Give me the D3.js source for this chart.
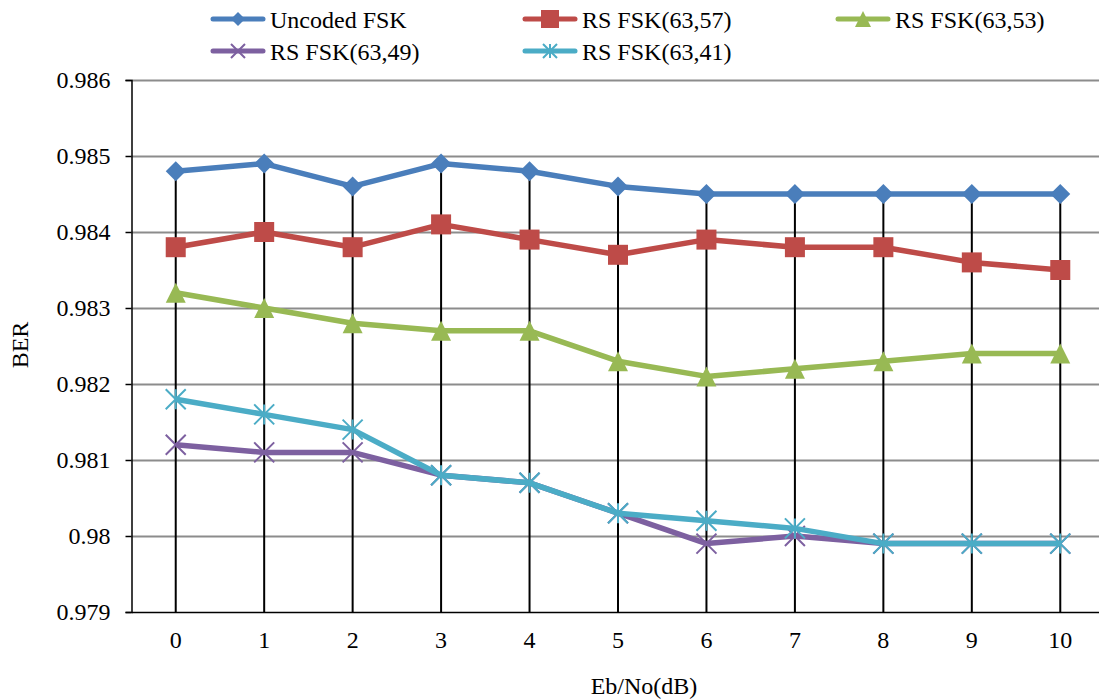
<!DOCTYPE html>
<html><head><meta charset="utf-8">
<script src="https://cdn.jsdelivr.net/npm/d3@7"></script>
<style>body{margin:0;background:#fff}svg{display:block}text{font-family:"Liberation Serif","Times New Roman",serif;fill:#000}</style>
</head><body>
<svg id="c" width="1099" height="699"></svg>
<script>
const categories = [0,1,2,3,4,5,6,7,8,9,10];
const seriesNames = ["Uncoded FSK","RS FSK(63,57)","RS FSK(63,53)","RS FSK(63,49)","RS FSK(63,41)"];
const uncoded = [0.9848,0.9849,0.9846,0.9849,0.9848,0.9846,0.9845,0.9845,0.9845,0.9845,0.9845];
const rs57 = [0.9838,0.9840,0.9838,0.9841,0.9839,0.9837,0.9839,0.9838,0.9838,0.9836,0.9835];
const rs53 = [0.9832,0.9830,0.9828,0.9827,0.9827,0.9823,0.9821,0.9822,0.9823,0.9824,0.9824];
const rs49 = [0.9812,0.9811,0.9811,0.9808,0.9807,0.9803,0.9799,0.9800,0.9799,0.9799,0.9799];
const rs41 = [0.9818,0.9816,0.9814,0.9808,0.9807,0.9803,0.9802,0.9801,0.9799,0.9799,0.9799];
const yTicks = [0.979,0.980,0.981,0.982,0.983,0.984,0.985,0.986];
const colors = ["#4A7EBB","#BE4B48","#98B954","#7D60A0","#4BACC6"];
const markers = ["diamond","square","triangle","x","star"];
const seriesVals = [uncoded, rs57, rs53, rs49, rs41];

const svg = d3.select("#c");
const FONT = "Liberation Serif";
const L = 131.5, R = 1104.5, T = 80, B = 612;
const x = d3.scaleBand().domain(categories).range([L, R]);
const y = d3.scaleLinear().domain([0.979, 0.986]).range([B, T]);
const cx = d => x(d) + x.bandwidth()/2;

// gridlines
svg.append("g").selectAll("line").data(yTicks.slice(1)).join("line")
  .attr("x1", L).attr("x2", R).attr("y1", d=>Math.round(y(d))+0.5).attr("y2", d=>Math.round(y(d))+0.5)
  .attr("stroke","#8c8c8c").attr("stroke-width",2);

// drop lines
const maxVals = categories.map((c,i)=>d3.max(seriesVals, s=>s[i]));
svg.append("g").selectAll("line").data(categories).join("line")
  .attr("x1", d=>cx(d)).attr("x2", d=>cx(d)).attr("y1", (d,i)=>y(maxVals[i])).attr("y2", B)
  .attr("stroke","#000").attr("stroke-width",2);

// y axis
const yAxis = d3.axisLeft(y).tickValues(yTicks).tickFormat(d=>String(+d.toFixed(3))).tickSize(6).tickPadding(15);
const ga = svg.append("g").attr("transform",`translate(${L},0)`).call(yAxis);
ga.select(".domain").attr("stroke","#000").attr("stroke-width",1.5);
ga.selectAll(".tick line").attr("stroke","#000").attr("stroke-width",1.5);
ga.selectAll("text").style("font-size","24px").style("font-family",FONT).attr("fill","#000");

// x axis
const xAxis = d3.axisBottom(x).tickSize(0).tickPadding(19);
const gx = svg.append("g").attr("transform",`translate(0,${B})`).call(xAxis);
gx.select(".domain").attr("stroke","#000").attr("stroke-width",1.5);
gx.selectAll("text").style("font-size","24px").style("font-family",FONT).attr("fill","#000");

// axis titles
svg.append("text").attr("transform","translate(28,345) rotate(-90)").attr("text-anchor","middle")
  .style("font-size","24px").style("font-family",FONT).text("BER");
svg.append("text").attr("x",644).attr("y",694).attr("text-anchor","middle").style("font-size","24px").style("font-family",FONT).text("Eb/No(dB)");

function drawMarker(g, type, color, s) {
  if (type==="diamond") g.append("path").attr("d",`M0,${-s}L${s},0L0,${s}L${-s},0Z`).attr("fill",color);
  else if (type==="square") g.append("rect").attr("x",-s).attr("y",-s).attr("width",2*s).attr("height",2*s).attr("fill",color);
  else if (type==="triangle") g.append("path").attr("d",`M0,${-s}L${s},${s}L${-s},${s}Z`).attr("fill",color);
  else if (type==="x") g.append("path").attr("d",`M${-s},${-s}L${s},${s}M${-s},${s}L${s},${-s}`).attr("stroke",color).attr("stroke-width",2);
  else if (type==="star") g.append("path").attr("d",`M${-s},${-s}L${s},${s}M${-s},${s}L${s},${-s}M0,${-s}L0,${s}`).attr("stroke",color).attr("stroke-width",2);
}
const sizes = {diamond:10, square:10, triangle:10, x:10, star:10};
const legSizes = {diamond:7, square:9, triangle:8, x:7, star:7};

const line = d3.line().x((d,i)=>cx(categories[i])).y(d=>y(d));
seriesVals.forEach((vals, k)=>{
  svg.append("path").datum(vals).attr("d", line).attr("fill","none")
    .attr("stroke", colors[k]).attr("stroke-width", 5.5).attr("stroke-linejoin","round");
  vals.forEach((v,i)=>{
    const g = svg.append("g").attr("transform",`translate(${cx(categories[i])},${y(v)})`);
    drawMarker(g, markers[k], colors[k], sizes[markers[k]]);
  });
});

// legend
const legendPos = [[213,19],[525,19],[838,19],[213,51],[525,51]];
seriesNames.forEach((name,k)=>{
  const [lx,ly] = legendPos[k];
  const g = svg.append("g");
  g.append("line").attr("x1",lx).attr("x2",lx+50).attr("y1",ly).attr("y2",ly)
    .attr("stroke",colors[k]).attr("stroke-width",5).attr("stroke-linecap","round");
  const m = g.append("g").attr("transform",`translate(${lx+25},${ly})`);
  drawMarker(m, markers[k], colors[k], legSizes[markers[k]]);
  g.append("text").attr("x",lx+57).attr("y",ly+9).style("font-size","24px").style("font-family",FONT).text(name);
});
</script>
</body></html>
